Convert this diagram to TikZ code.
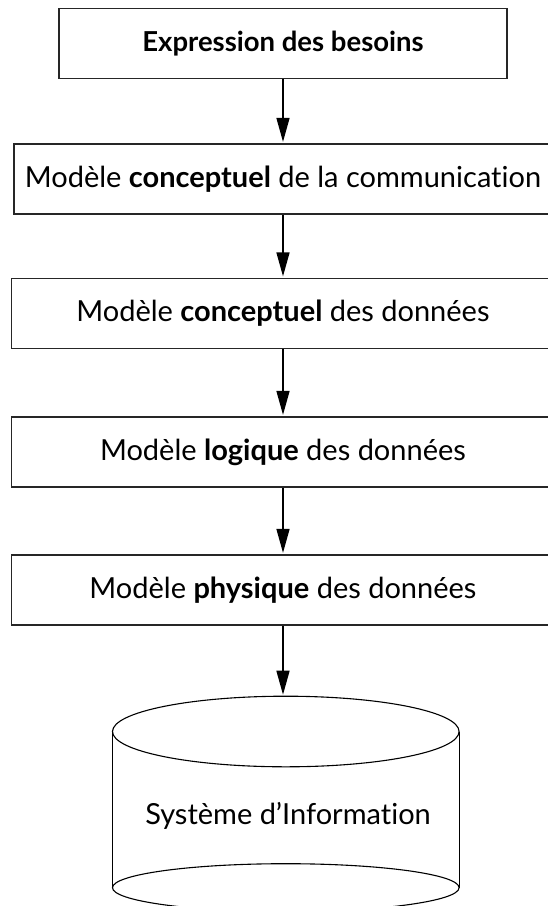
\documentclass[tikz,border=0pt]{standalone}
\usepackage{fontspec}
\setmainfont{Lato}[Ligatures=NoCommon]
\usetikzlibrary{arrows.meta}
\begin{document}
\begin{tikzpicture}[x=1pt,y=-1pt,
  stepbox/.style={draw=black!85,line width=1.3pt,rectangle,inner sep=0pt,
    minimum height=70pt,font=\fontsize{29}{34}\selectfont},
  flow/.style={line width=1.5pt,-{Triangle[length=24pt,width=13pt]},shorten >=1.5pt},
  cyl/.style={line width=1.1pt}]
\useasboundingbox (0,0) rectangle (548,906);
\clip (0,0) rectangle (548,906);
\node[stepbox,minimum width=448pt,font=\fontsize{27.5}{32}\selectfont] (eb) at (283,43.3) {\textbf{Expression des besoins}};
\node[stepbox,minimum width=538pt] (mcc) at (283,179) {Modèle \textbf{conceptuel} de la communication};
\node[stepbox,minimum width=543pt] (mcd) at (283,313.5) {Modèle \textbf{conceptuel} des données};
\node[stepbox,minimum width=543pt] (mld) at (283,452) {Modèle \textbf{logique} des données};
\node[stepbox,minimum width=543pt] (mpd) at (283,590) {Modèle \textbf{physique} des données};
% cylinder
\draw[cyl] (285.8,731.5) ellipse [x radius=173.3, y radius=35.3];
\draw[cyl] (285.8,887.7) ellipse [x radius=173.3, y radius=24];
\draw[cyl] (112.5,731.5) -- (112.5,887.7);
\draw[cyl] (459.1,731.5) -- (459.1,887.7);
\node[font=\fontsize{29}{34}\selectfont] (si) at (288,816) {Système d’Information};
\coordinate (cyltop) at (283,696.2);
\draw[flow] (eb.south) -- (mcc.north);
\draw[flow] (mcc.south) -- (mcd.north);
\draw[flow] (mcd.south) -- (mld.north);
\draw[flow] (mld.south) -- (mpd.north);
\draw[flow] (mpd.south) -- (cyltop);
\end{tikzpicture}
\end{document}
